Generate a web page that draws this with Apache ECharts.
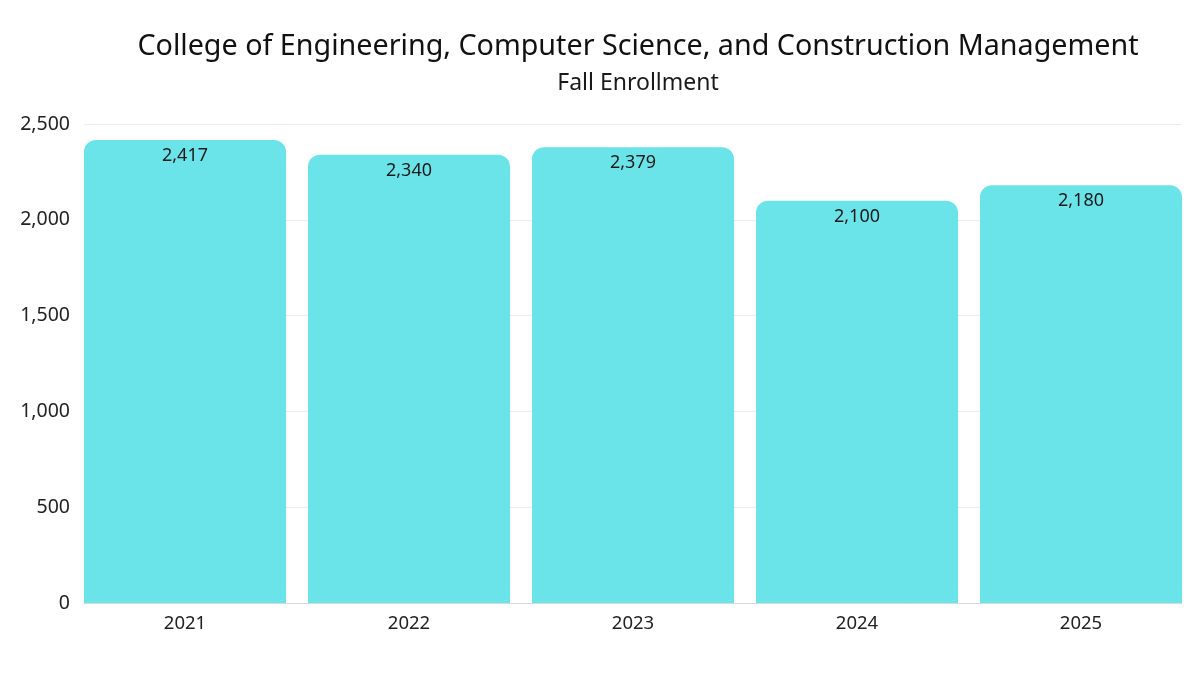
<!DOCTYPE html>
<html><head><meta charset="utf-8">
<script src="https://cdn.jsdelivr.net/npm/echarts@6/dist/echarts.min.js"></script>
<style>html,body{margin:0;padding:0;background:#fff}#c{width:1200px;height:675px}</style>
</head><body><div id="c"></div>
<script>
const titleText = 'College of Engineering, Computer Science, and Construction Management';
const subtitleText = 'Fall Enrollment';
const categories = ['2021', '2022', '2023', '2024', '2025'];
const enrollment = [2417, 2340, 2379, 2100, 2180];
const yTicks = [0, 500, 1000, 1500, 2000, 2500];

const chart = echarts.init(document.getElementById('c'), null, {renderer: 'canvas'});
const fmt = v => v.toLocaleString('en-US');
const FONT = 'Noto Sans';
const yMin = yTicks[0], yMax = yTicks[yTicks.length - 1], yStep = yTicks[1] - yTicks[0];
chart.setOption({
  animation: false,
  backgroundColor: '#ffffff',
  title: {
    text: titleText, subtext: subtitleText, left: 633, textAlign: 'center', top: 27,
    textStyle: {fontFamily: FONT, fontSize: 28.7, fontWeight: 'normal', color: '#111'},
    subtextStyle: {fontFamily: FONT, fontSize: 23, color: '#1a1a1a'},
    itemGap: 11
  },
  grid: [
    {left: 84, right: 18, top: 124, bottom: 72},
    {left: 73, right: 7, top: 124, bottom: 72}
  ],
  xAxis: [
    {
      type: 'category', data: categories, gridIndex: 0,
      axisLine: {show: true, lineStyle: {color: '#d8d8d8'}},
      axisTick: {show: false}, axisLabel: {show: false}
    },
    {
      type: 'category', data: categories, gridIndex: 1,
      axisLine: {show: false}, axisTick: {show: false},
      axisLabel: {fontFamily: FONT, fontSize: 18.5, color: '#222', margin: 11}
    }
  ],
  yAxis: [
    {
      type: 'value', gridIndex: 0, min: yMin, max: yMax, interval: yStep,
      axisLine: {show: false}, axisTick: {show: false},
      splitLine: {lineStyle: {color: '#ececec'}},
      axisLabel: {fontFamily: FONT, fontSize: 19.5, color: '#222', margin: 14, formatter: v => fmt(v)}
    },
    {
      type: 'value', gridIndex: 1, min: yMin, max: yMax, interval: yStep,
      axisLine: {show: false}, axisTick: {show: false},
      splitLine: {show: false}, axisLabel: {show: false}
    }
  ],
  series: [{
    type: 'bar', data: enrollment, xAxisIndex: 1, yAxisIndex: 1, barCategoryGap: '9.8%',
    itemStyle: {color: '#6ae4e8', borderRadius: [12, 12, 0, 0]},
    label: {show: true, position: 'insideTop', distance: 7, fontFamily: FONT, fontSize: 18, color: '#1a1a1a', formatter: p => fmt(p.value)}
  }]
});
</script></body></html>
